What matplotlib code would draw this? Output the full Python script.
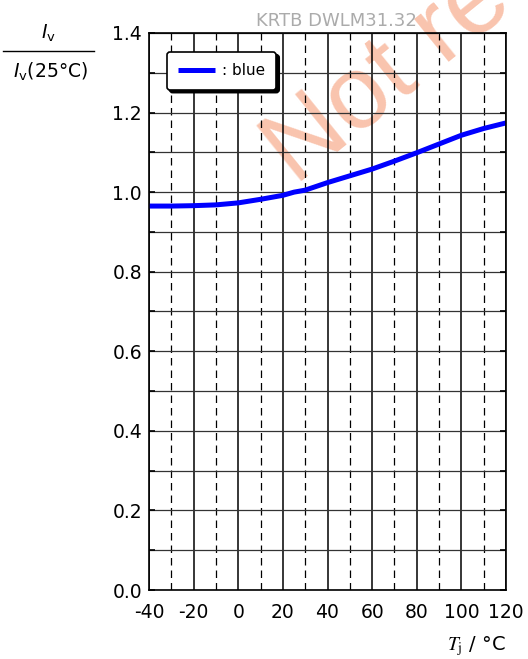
import matplotlib
matplotlib.use("Agg")
import matplotlib.pyplot as plt
from matplotlib.ticker import MultipleLocator

# -------------------------------------------------
# DATA
# -------------------------------------------------

temps = [-40, -30, -20, -10, 0, 10, 20, 25, 30, 40, 50, 60, 70, 80, 90, 100, 110, 120]
rel_intensity = [0.965, 0.965, 0.966, 0.968, 0.973, 0.982, 0.992, 1.000, 1.005,
                 1.024, 1.041, 1.058, 1.078, 1.099, 1.121, 1.143, 1.160, 1.174]

series_label = ": blue"
x_ticks = [-40, -20, 0, 20, 40, 60, 80, 100, 120]
y_ticks = [0.0, 0.2, 0.4, 0.6, 0.8, 1.0, 1.2, 1.4]
part_number = "KRTB DWLM31.32"
watermark = "Not recommended"

# -------------------------------------------------
# FIGURE
# -------------------------------------------------

W, H = 528, 659
fig = plt.figure(figsize=(W / 100, H / 100), dpi=100)

ax = fig.add_axes([149 / W, 1 - 590 / H, 357 / W, 557 / H])
ax.patch.set_facecolor("none")

ax.plot(temps, rel_intensity, color="#0000ff", lw=3.6,
        solid_capstyle="butt", label=series_label, zorder=5)

ax.set_xlim(-40, 120)
ax.set_ylim(0, 1.4)
ax.set_xticks(x_ticks)
ax.set_yticks(y_ticks)
ax.set_xticklabels([str(t) for t in x_ticks])
ax.set_yticklabels([f"{v:.1f}" for v in y_ticks])
ax.xaxis.set_minor_locator(MultipleLocator(10))
ax.yaxis.set_minor_locator(MultipleLocator(0.1))

# grid
ax.grid(which="major", axis="x", color="black", lw=1.1, zorder=2)
ax.grid(which="minor", axis="x", color="black", lw=0.9,
        linestyle=(0, (6, 4)), zorder=2)
ax.grid(which="both", axis="y", color="#333333", lw=0.9, zorder=2)
ax.set_axisbelow(False)

ax.tick_params(axis="x", which="both", length=0, pad=9, labelsize=13.5)
ax.tick_params(axis="y", which="both", direction="in", length=4, width=1.2,
               right=True, pad=5, labelsize=13.5)

for sp in ax.spines.values():
    sp.set_linewidth(1.2)
    sp.set_zorder(6)

# legend
leg = ax.legend(loc="upper left", bbox_to_anchor=(0.05, 0.966),
                borderaxespad=0, fontsize=11, handlelength=2.4,
                handletextpad=0.45, borderpad=0.75, fancybox=True,
                framealpha=1, edgecolor="black",
                shadow={"color": "black", "alpha": 1})
leg.get_frame().set_linewidth(1.2)
leg.set_zorder(7)

# -------------------------------------------------
# LABELS
# -------------------------------------------------

fig.text(48 / W, 1 - 33 / H, r"$I_\mathrm{v}$", ha="center", va="center",
         fontsize=13.5)
fig.add_artist(plt.Line2D([3 / W, 94 / W], [1 - 51 / H, 1 - 51 / H],
                          color="black", lw=1.0))
fig.text(51 / W, 1 - 72 / H, r"$I_\mathrm{v}$(25°C)", ha="center",
         va="center", fontsize=13.5)

fig.text(506 / W, 1 - 646 / H, r"$T_\mathrm{j}$ / °C", ha="right",
         va="center", fontsize=14, math_fontfamily="stix")

fig.text(336 / W, 1 - 20.5 / H, part_number, ha="center", va="center",
         fontsize=13, color="#ababab", zorder=4)

fig.text(295 / W, 1 - 186 / H, watermark, rotation=39,
         rotation_mode="anchor", ha="left", va="baseline",
         fontsize=75, family="Liberation Sans", color="#f9c4ae",
         zorder=-1)

fig.savefig("out.png", dpi=100)
